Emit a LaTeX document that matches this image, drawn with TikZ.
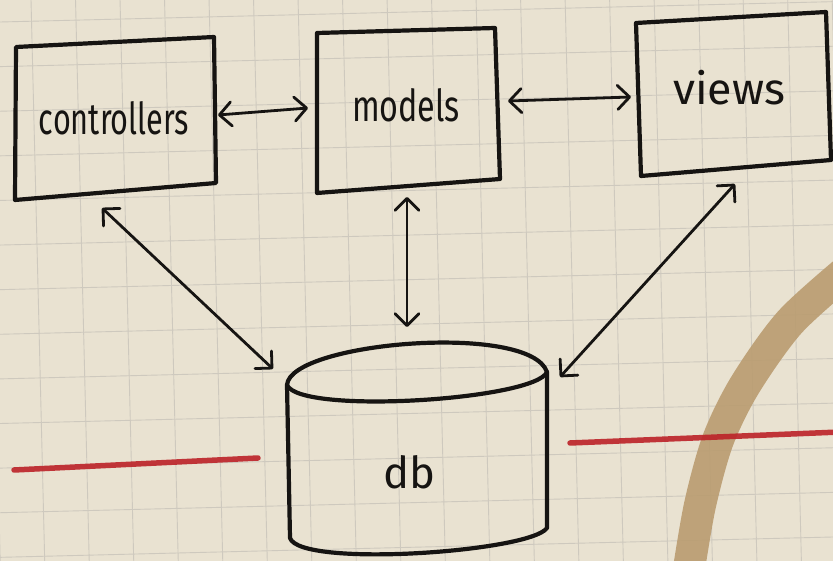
\documentclass[tikz,border=0pt]{standalone}
\usepackage{fontspec}
\usepackage{graphicx}
\setmainfont{Fira Sans}
\usetikzlibrary{arrows.meta}
\definecolor{paper}{RGB}{233,226,209}
\definecolor{gridc}{RGB}{206,201,190}
\definecolor{ink}{RGB}{22,20,18}
\definecolor{redpen}{RGB}{188,34,40}
\definecolor{stain}{RGB}{186,156,112}
\newcommand{\fitw}[2]{\resizebox{#1}{\height}{#2}}
\begin{document}
\begin{tikzpicture}[x=1pt,y=-1pt,
  box/.style={draw=ink,line width=4.2pt,line join=round,line cap=round},
  lbl/.style={text=ink,font=\fontsize{44}{44}\selectfont,inner sep=0pt,anchor=base},
  conn/.style={draw=ink,line width=2.8pt,line cap=round,
    {Straight Barb[length=12pt,width=24pt,line cap=round,line join=round]}-{Straight Barb[length=12pt,width=24pt,line cap=round,line join=round]}},
  gridline/.style={draw=gridc,line width=0.9pt},
  redline/.style={draw=redpen,line width=5.5pt,line cap=round,opacity=0.9},
  stainband/.style={draw=stain,line width=32pt,line cap=butt,opacity=0.9}
]
% paper
\fill[paper] (0,0) rectangle (833,561);
\useasboundingbox (0,0) rectangle (833,561);
\begin{scope}
\clip (0,0) rectangle (833,561);
\begin{scope}[rotate around={1.4:(0,0)}]
\foreach \k in {-2,...,20} \draw[gridline] (31+44.5*\k,-120) -- (31+44.5*\k,700);
\foreach \j in {-3,...,15} \draw[gridline] (-120,22+44.6*\j) -- (960,22+44.6*\j);
\end{scope}
% coffee stain
\draw[stainband] plot[smooth] coordinates {(688,575) (700,505) (718,440) (745,385) (790,322) (850,268)};
\end{scope}
% red pen lines
\draw[redline] (14,470) -- (258,458);
\draw[redline] (570,443) -- (840,432);

% controllers box
\coordinate (c1) at (16,47);  \coordinate (c2) at (214,37);
\coordinate (c3) at (216,183); \coordinate (c4) at (15,200);
\draw[box] (c1) -- (c2) -- (c3) -- (c4) -- cycle;
\node[lbl] (ctl) at (114,135) {\fitw{150pt}{controllers}};

% models box
\coordinate (m1) at (317,33);  \coordinate (m2) at (495,28);
\coordinate (m3) at (500,179); \coordinate (m4) at (317,193);
\draw[box] (m1) -- (m2) -- (m3) -- (m4) -- cycle;
\node[lbl] (mdl) at (406,122) {\fitw{108pt}{models}};

% views box
\coordinate (v1) at (636,23);  \coordinate (v2) at (826,12);
\coordinate (v3) at (831,160); \coordinate (v4) at (641,176);
\draw[box] (v1) -- (v2) -- (v3) -- (v4) -- cycle;
\node[lbl] (vws) at (729,105) {\fitw{112pt}{views}};

% db cylinder
\coordinate (d1) at (287,385); \coordinate (d2) at (547,372);
\coordinate (d3) at (547,528); \coordinate (d4) at (290,538);
\draw[box] (d1) .. controls (290,342) and (530,322) .. (d2)
               .. controls (535,400) and (300,415) .. (d1);
\draw[box] (d1) -- (d4) .. controls (300,568) and (530,552) .. (d3) -- (d2);
\node[lbl] (db) at (409,488) {\fitw{52pt}{db}};

% connector endpoints
\coordinate (cm-a) at (218,115); \coordinate (cm-b) at (308,108);
\coordinate (mv-a) at (508,101); \coordinate (mv-b) at (631,97);
\coordinate (cd-a) at (102,208); \coordinate (cd-b) at (273,369);
\coordinate (md-a) at (407,197); \coordinate (md-b) at (407,327);
\coordinate (vd-a) at (735,184); \coordinate (vd-b) at (560,377);

\draw[conn] (cm-a) -- (cm-b);
\draw[conn] (mv-a) -- (mv-b);
\draw[conn] (cd-a) -- (cd-b);
\draw[conn] (md-a) -- (md-b);
\draw[conn] (vd-a) -- (vd-b);
\end{tikzpicture}
\end{document}
